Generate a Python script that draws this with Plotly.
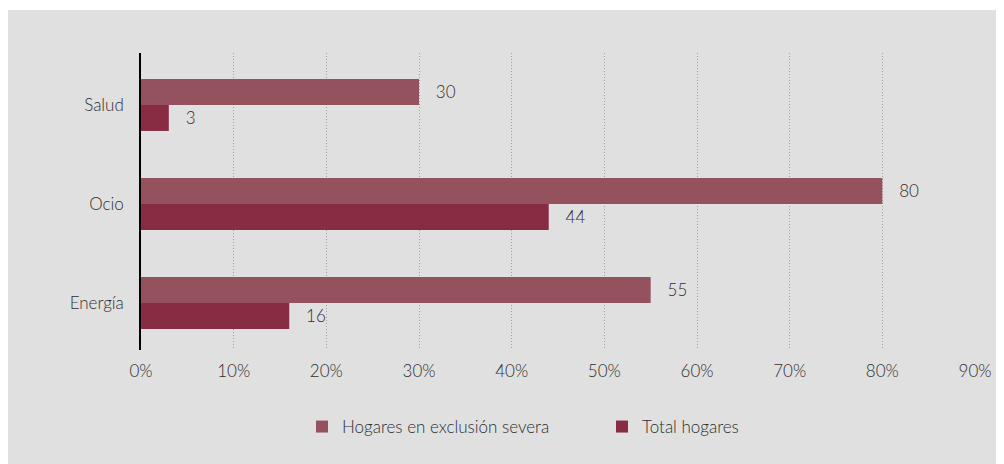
import plotly.graph_objects as go

categories = ["Salud", "Ocio", "Energía"]
exclusion_severa = [30, 80, 55]
total_hogares = [3, 44, 16]
x_ticks = [0, 10, 20, 30, 40, 50, 60, 70, 80, 90]
x_tick_labels = ["0%", "10%", "20%", "30%", "40%", "50%", "60%", "70%", "80%", "90%"]

FONT = "Lato, 'Open Sans', sans-serif"
TXT = "#2e2e2e"
C_EXC = "#94525f"
C_TOT = "#872c42"
FS = 17

fig = go.Figure()
fig.add_trace(go.Bar(
    y=categories, x=total_hogares, orientation="h", name="Total hogares",
    marker=dict(color=C_TOT, line=dict(width=0)),
    text=[str(v) for v in total_hogares], texttemplate="\u00a0\u00a0\u00a0%{text}",
    textposition="outside",
    textfont=dict(family=FONT, size=FS, color=TXT, weight=300), cliponaxis=False, legendrank=2,
))
fig.add_trace(go.Bar(
    y=categories, x=exclusion_severa, orientation="h", name="Hogares en exclusión severa",
    marker=dict(color=C_EXC, line=dict(width=0)),
    text=[str(v) for v in exclusion_severa], texttemplate="\u00a0\u00a0\u00a0%{text}",
    textposition="outside",
    textfont=dict(family=FONT, size=FS, color=TXT, weight=300), cliponaxis=False, legendrank=1,
))

OFF = 8  # page body margin
W, H = 1004 - OFF, 464 - OFF
L = 141 - OFF
T = 53 - OFF
R = W - (975 - OFF)
B = H - (350 - OFF)
pw, ph = W - L - R, H - T - B

def px_x(px):
    return (px - OFF - L) / pw

def px_y(py):
    return (H - B - (py - OFF)) / ph

fig.add_shape(type="rect", xref="paper", yref="paper",
              x0=px_x(7), x1=px_x(1004 + 10), y0=px_y(464 + 10), y1=px_y(10),
              fillcolor="#e0e0e0", line=dict(width=0), layer="below")

fig.update_layout(
    width=W, height=H,
    margin=dict(l=L, r=R, t=T, b=B, pad=0),
    paper_bgcolor="white", plot_bgcolor="rgba(0,0,0,0)",
    barmode="group", bargap=0.475, bargroupgap=0,
    font=dict(family=FONT, size=FS, color=TXT, weight=300),
    showlegend=True,
    legend=dict(orientation="h", x=px_x(302), xanchor="left", y=px_y(427), yanchor="middle",
                font=dict(family=FONT, size=FS, color=TXT, weight=300), bgcolor="rgba(0,0,0,0)",
                traceorder="normal", itemsizing="constant", entrywidth=255),
    xaxis=dict(range=[0, 90], tickvals=x_ticks, ticktext=x_tick_labels, showgrid=True,
               gridcolor="#a0a0a0", griddash="1px,2px", gridwidth=1, zeroline=False,
               showline=False, ticks="", ticklabelstandoff=9,
               tickfont=dict(family=FONT, size=FS, color=TXT, weight=300)),
    yaxis=dict(categoryorder="array", categoryarray=["Energía", "Ocio", "Salud"],
               range=[-0.475, 2.525], showline=True, linecolor="black", linewidth=1.5,
               showgrid=False, zeroline=False, ticks="", ticklabelstandoff=12,
               tickfont=dict(family=FONT, size=FS, color=TXT, weight=300)),
)

fig.write_html("out.html")
